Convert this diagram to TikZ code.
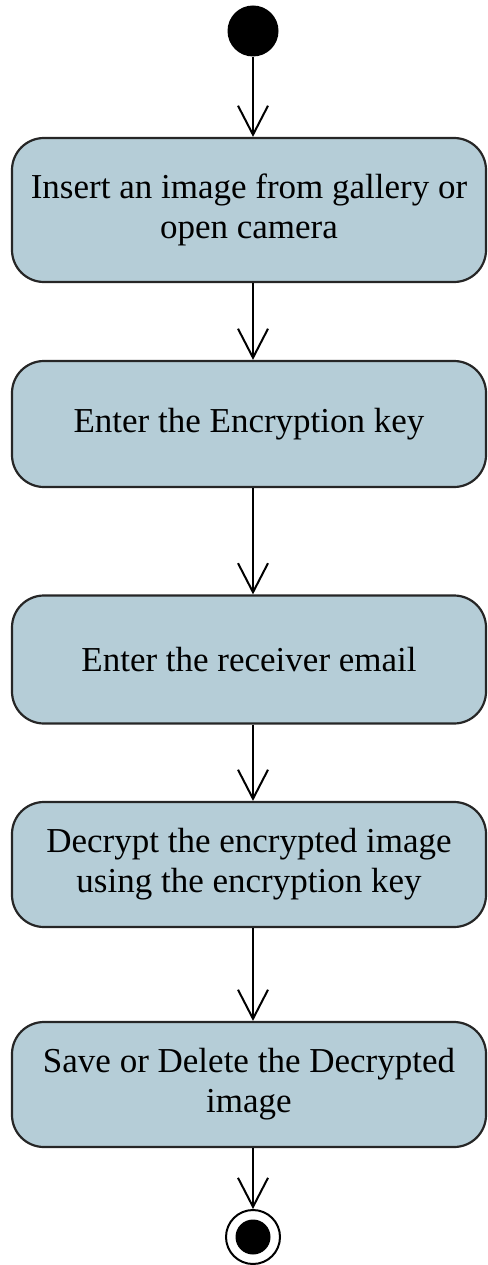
\documentclass[tikz,border=0pt]{standalone}
\usepackage{fontspec}
\setmainfont{Liberation Serif}
\usetikzlibrary{arrows.meta}
\definecolor{boxfill}{RGB}{181,205,215}
\begin{document}
\begin{tikzpicture}[x=1pt,y=-1pt,
  act/.style={draw=black!85, line width=2.2pt, fill=boxfill, rounded corners=32pt,
    minimum width=474pt, inner sep=0pt, align=center,
    font=\fontsize{35}{40}\selectfont},
  flow/.style={draw=black, line width=2pt, -{Straight Barb[length=29pt,width=30pt,line width=2pt]}}]
\useasboundingbox (0,0) rectangle (487,1265);
\node[circle, fill=black, minimum size=51pt, inner sep=0pt] (s) at (253,31) {};
\node[act, minimum height=144pt] (b1) at (249,210) {Insert an image from gallery or\\open camera};
\node[act, minimum height=126pt] (b2) at (249,424) {Enter the Encryption key};
\node[act, minimum height=128pt] (b3) at (249,659.5) {Enter the receiver email};
\node[act, minimum height=125pt] (b4) at (249,864.5) {Decrypt the encrypted image\\using the encryption key};
\node[act, minimum height=125pt] (b5) at (249,1084.5) {Save or Delete the Decrypted\\image};
\node[circle, draw=black, line width=2pt, minimum size=54pt, inner sep=0pt] (e) at (253,1237) {};
\node[circle, fill=black, minimum size=35pt, inner sep=0pt] (ei) at (e.center) {};
\draw[flow] (s.south) -- (b1.north -| s);
\draw[flow] (b1.south -| s) -- (b2.north -| s);
\draw[flow] (b2.south -| s) -- (b3.north -| s);
\draw[flow] (b3.south -| s) -- (b4.north -| s);
\draw[flow] (b4.south -| s) -- (b5.north -| s);
\draw[flow] (b5.south -| s) -- (e.north);
\end{tikzpicture}
\end{document}
